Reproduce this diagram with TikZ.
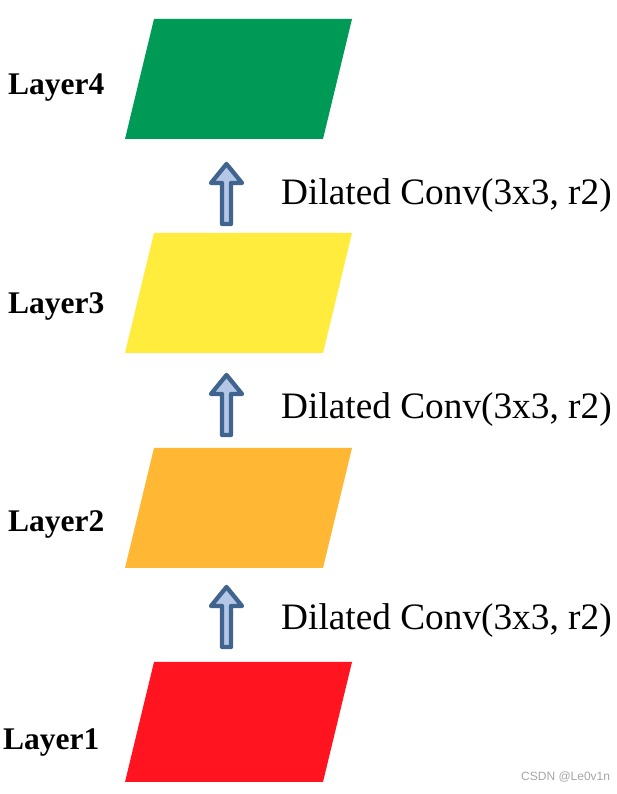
\documentclass[tikz,border=0pt]{standalone}
\usepackage{fontspec}
\setmainfont{Liberation Serif}
\newfontfamily\wmfont{Liberation Sans}
\definecolor{lgreen}{HTML}{009A57}
\definecolor{lyellow}{HTML}{FFEC3C}
\definecolor{lorange}{HTML}{FFB734}
\definecolor{lred}{HTML}{FF1420}
\definecolor{arrfill}{HTML}{B4C7E7}
\definecolor{arrline}{HTML}{41648F}
\tikzset{
  layerlabel/.style={anchor=base west, inner sep=0pt, font=\fontsize{31.5}{36}\selectfont\bfseries},
  convlabel/.style={anchor=base west, inner sep=0pt, font=\fontsize{37.3}{42}\selectfont},
  blockarrow/.style={draw=arrline, fill=arrfill, line width=4.3pt, line join=round},
  pics/uparrow/.style={code={
    \path[blockarrow] (0,0) -- (15.5,-19) -- (4.5,-19) -- (4.5,-60) -- (-4.5,-60) -- (-4.5,-19) -- (-15.5,-19) -- cycle;
  }}
}
\begin{document}
\begin{tikzpicture}[x=1pt,y=1pt]
\useasboundingbox (0,0) rectangle (617,794);
\fill[white] (0,0) rectangle (617,794);
% layers (parallelograms)
\fill[lgreen]  (154,775) -- (352,775) -- (323,655) -- (125,655) -- cycle;
\fill[lyellow] (154,561) -- (352,561) -- (323,441) -- (125,441) -- cycle;
\fill[lorange] (154,346) -- (352,346) -- (323,226) -- (125,226) -- cycle;
\fill[lred]    (154,132) -- (352,132) -- (323,12) -- (125,12) -- cycle;
% layer labels
\node[layerlabel] (l4) at (8,699) {Layer4};
\node[layerlabel] (l3) at (8,480) {Layer3};
\node[layerlabel] (l2) at (8,262) {Layer2};
\node[layerlabel] (l1) at (3,44) {Layer1};
% arrows
\pic at (226.5,630) {uparrow};
\pic at (226.5,419) {uparrow};
\pic at (226.5,207) {uparrow};
% conv labels
\node[convlabel] (c3) at (281,589) {Dilated Conv(3x3, r2)};
\node[convlabel] (c2) at (281,375) {Dilated Conv(3x3, r2)};
\node[convlabel] (c1) at (281,164) {Dilated Conv(3x3, r2)};
% watermark
\node[anchor=base west, inner sep=0pt, font=\wmfont\fontsize{12}{14}\selectfont, text=gray!70] (wm) at (521,13) {CSDN @Le0v1n};
\end{tikzpicture}
\end{document}
